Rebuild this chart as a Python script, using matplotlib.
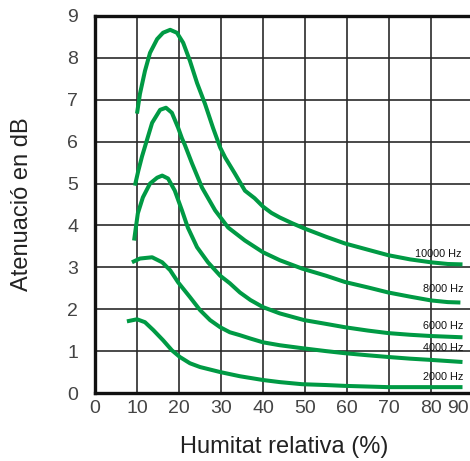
import matplotlib
matplotlib.use("Agg")
import matplotlib.pyplot as plt

# ---- data ----
x_10000 = [10, 10.7, 11.9, 13.1, 14.8, 16.2, 17.9, 19.5, 21, 22.6, 24.3, 26.2, 28.1, 29.8, 31, 33.3,
           35.7, 38, 40, 42, 44, 47, 49.8, 55, 59.5, 65, 69.8, 75, 80, 84, 87.5]
y_10000 = [6.67, 7.14, 7.69, 8.12, 8.45, 8.6, 8.67, 8.6, 8.36, 7.93, 7.4, 6.9, 6.33, 5.86, 5.62, 5.24,
           4.83, 4.65, 4.45, 4.3, 4.19, 4.05, 3.93, 3.73, 3.57, 3.42, 3.29, 3.19, 3.12, 3.08, 3.07]

x_8000 = [9.5, 10.3, 11.2, 12.4, 13.6, 15.5, 16.9, 18.3, 19.8, 20.7, 21.4, 23.1, 25.5, 28.6, 31.7,
          35.7, 40, 44, 49.3, 55, 59.5, 65, 69.8, 75, 80, 84, 87]
y_8000 = [4.95, 5.3, 5.65, 6.05, 6.45, 6.76, 6.81, 6.69, 6.33, 6.08, 5.92, 5.48, 4.9, 4.36, 3.95,
          3.64, 3.36, 3.17, 2.97, 2.8, 2.65, 2.52, 2.4, 2.3, 2.21, 2.17, 2.16]

x_6000 = [9.3, 10.2, 11.4, 13.1, 14.8, 16, 17.4, 19, 20.7, 22.1, 24.3, 26.9, 29.8, 32.1, 34.5, 37,
          40, 44, 49.8, 55, 59.5, 65, 69.8, 75, 80, 87.5]
y_6000 = [3.64, 4.29, 4.67, 5.0, 5.14, 5.19, 5.12, 4.83, 4.36, 3.95, 3.48, 3.12, 2.8, 2.62, 2.4, 2.22,
          2.05, 1.9, 1.74, 1.65, 1.57, 1.49, 1.43, 1.39, 1.36, 1.33]

x_4000 = [8.8, 10.7, 13.6, 16, 17.9, 19.8, 22.6, 25, 27.4, 29.8, 32.1, 34.5, 37, 40, 44, 49.3, 55,
          59.5, 65, 69.8, 75, 80, 87.5]
y_4000 = [3.12, 3.21, 3.24, 3.12, 2.93, 2.64, 2.29, 1.98, 1.74, 1.57, 1.45, 1.38, 1.3, 1.21, 1.14,
          1.07, 1.0, 0.95, 0.9, 0.86, 0.82, 0.79, 0.74]

x_2000 = [7.6, 10, 11.9, 13.9, 16.2, 18.3, 20.2, 22.6, 25, 29.8, 34.5, 40, 44, 49.3, 55, 59.5,
          69.8, 80, 87.5]
y_2000 = [1.71, 1.76, 1.69, 1.5, 1.26, 1.02, 0.86, 0.71, 0.62, 0.5, 0.4, 0.31, 0.26, 0.21, 0.19,
          0.17, 0.14, 0.14, 0.14]

series_labels = ["10000 Hz", "8000 Hz", "6000 Hz", "4000 Hz", "2000 Hz"]
label_x = [81.8, 83.0, 83.0, 83.0, 83.0]
label_y = [3.33, 2.48, 1.60, 1.07, 0.38]

x_ticks = [0, 10, 20, 30, 40, 50, 60, 70, 80, 90]
y_ticks = [0, 1, 2, 3, 4, 5, 6, 7, 8, 9]

x_title = "Humitat relativa (%)"
y_title = "Atenuació en dB"

# ---- figure ----
plt.rcParams['font.family'] = ['Liberation Sans', 'DejaVu Sans']
fig = plt.figure(figsize=(4.70, 4.61), dpi=100)
W, H = 470, 461
ax = fig.add_axes([95 / W, (H - 393) / H, 378 / W, 377 / H])

green = '#009a44'
for xs, ys in [(x_10000, y_10000), (x_8000, y_8000), (x_6000, y_6000),
               (x_4000, y_4000), (x_2000, y_2000)]:
    ax.plot(xs, ys, color=green, lw=2.9, solid_capstyle='butt',
            solid_joinstyle='round', zorder=3)

for t, lx, ly in zip(series_labels, label_x, label_y):
    ax.text(lx, ly, t, fontsize=7.8, color='#111111', ha='center', va='center', zorder=4)

ax.set_xlim(0, 90)
ax.set_ylim(0, 9)
ax.set_xticks(x_ticks)
ax.set_yticks(y_ticks)
# last x tick label sits at the figure edge: draw it shifted inwards instead
ax.set_xticklabels([str(v) for v in x_ticks[:-1]] + [""])
ax.annotate(str(x_ticks[-1]), xy=(x_ticks[-1], 0), xycoords=('data', 'axes fraction'),
            xytext=(-3, -5), textcoords='offset points', ha='right', va='top',
            fontsize=14, color='#444444', annotation_clip=False)
ax.set_yticklabels([str(v) for v in y_ticks])

ax.grid(True, color='#2a2a2a', lw=1.2, zorder=1)
ax.set_axisbelow(True)
ax.tick_params(length=0, labelsize=14, labelcolor='#444444')
ax.tick_params(axis='y', pad=12)
ax.tick_params(axis='x', pad=5)

for s in ['left', 'bottom', 'top']:
    ax.spines[s].set_linewidth(2.4)
    ax.spines[s].set_color('#111111')
ax.spines['right'].set_visible(False)

ax.set_xlabel(x_title, fontsize=17, color='#222222')
ax.set_ylabel(y_title, fontsize=17, color='#222222')
ax.xaxis.set_label_coords(0.5, -0.115)
ax.yaxis.set_label_coords(-0.165, 0.5)

fig.savefig("out.png", dpi=100)
